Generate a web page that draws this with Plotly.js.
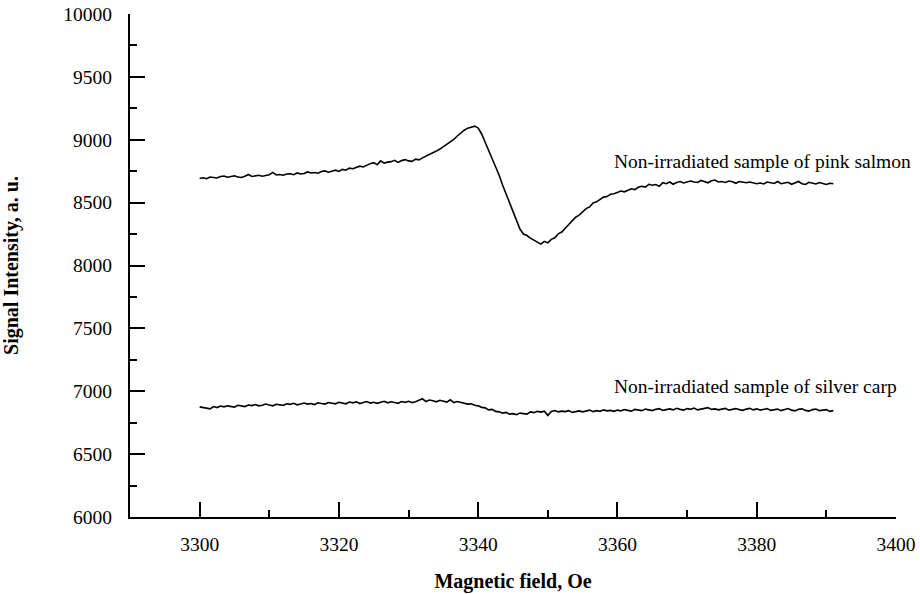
<!DOCTYPE html>
<html>
<head>
<meta charset="utf-8">
<script src="https://cdn.plot.ly/plotly-3.0.1.min.js"></script>
<style>html,body{margin:0;padding:0;background:#fff;}#chart{width:920px;height:594px;}</style>
</head>
<body>
<div id="chart"></div>
<script>
// Field grid: start 3300 Oe, step 0.5 Oe
var fieldStart = 3300;
var fieldStep = 0.5;

// Non-irradiated sample of pink salmon (signal, a.u.), one value per 0.5 Oe from 3300
var pinkSalmon = [
8692,8698,8690,8704,8700,8696,8708,8712,8702,8706,8714,8704,8700,8710,8724,8708,8714,8718,8710,8716,
8722,8740,8720,8724,8718,8728,8730,8722,8736,8728,8732,8744,8736,8740,8734,8748,8752,8742,8750,8758,
8748,8764,8758,8774,8770,8780,8790,8784,8800,8810,8818,8802,8832,8814,8822,8826,8836,8820,8834,8842,
8832,8828,8846,8840,8856,8868,8880,8896,8910,8926,8944,8962,8980,9002,9030,9054,9076,9092,9102,9108,
9092,9046,8980,8916,8860,8788,8720,8640,8570,8490,8422,8346,8290,8250,8238,8218,8200,8182,8170,8192,
8180,8208,8220,8252,8266,8296,8326,8348,8384,8400,8428,8452,8466,8498,8506,8522,8544,8548,8566,8570,
8580,8592,8586,8600,8610,8604,8622,8630,8624,8646,8638,8644,8630,8658,8650,8664,8646,8660,8668,8656,
8662,8672,8664,8660,8676,8668,8658,8674,8680,8664,8668,8660,8672,8666,8654,8668,8662,8658,8664,8654,
8650,8656,8648,8664,8660,8652,8668,8650,8656,8662,8646,8658,8668,8650,8644,8662,8656,8648,8660,8652,
8644,8654,8650
];

// Non-irradiated sample of silver carp (signal, a.u.), one value per 0.5 Oe from 3300
var silverCarp = [
6876,6872,6870,6860,6878,6870,6882,6876,6884,6880,6874,6888,6884,6878,6890,6886,6894,6884,6888,6898,
6890,6884,6896,6892,6888,6900,6896,6904,6892,6898,6906,6898,6902,6894,6908,6902,6898,6910,6904,6900,
6912,6906,6900,6914,6908,6916,6902,6910,6918,6906,6912,6904,6914,6920,6908,6916,6910,6904,6918,6912,
6920,6910,6916,6926,6940,6918,6930,6924,6916,6928,6922,6914,6932,6910,6918,6912,6904,6898,6900,6888,
6884,6872,6868,6852,6856,6840,6836,6826,6832,6818,6822,6814,6826,6820,6818,6836,6830,6840,6834,6842,
6808,6840,6846,6836,6842,6838,6846,6832,6840,6844,6836,6842,6850,6838,6846,6840,6852,6844,6848,6840,
6850,6844,6854,6848,6842,6856,6850,6846,6858,6852,6846,6856,6862,6848,6854,6860,6852,6864,6856,6850,
6862,6856,6866,6852,6858,6864,6870,6856,6860,6852,6858,6864,6850,6856,6862,6854,6848,6858,6864,6852,
6860,6850,6856,6862,6848,6852,6858,6846,6854,6862,6850,6844,6856,6860,6848,6842,6854,6858,6846,6850,
6854,6840,6846
];

var labels = ["Non-irradiated sample of pink salmon", "Non-irradiated sample of silver carp"];
var labelX = [3359.2, 3359.2];
var labelY = [8830, 7035];

function fieldFor(arr) {
  var out = [];
  for (var i = 0; i < arr.length; i++) out.push(fieldStart + fieldStep * i);
  return out;
}

var font = "Liberation Serif";
var traces = [
  {x: fieldFor(pinkSalmon), y: pinkSalmon, type: "scatter", mode: "lines",
   line: {color: "#000", width: 1.6}, hoverinfo: "x+y"},
  {x: fieldFor(silverCarp), y: silverCarp, type: "scatter", mode: "lines",
   line: {color: "#000", width: 1.6}, hoverinfo: "x+y"}
];

var annotations = labels.map(function (t, i) {
  return {x: labelX[i], y: labelY[i], xref: "x", yref: "y", text: t, showarrow: false,
          xanchor: "left", yanchor: "middle", font: {family: font, size: 19.5, color: "#000"}};
});

var layout = {
  width: 920, height: 594,
  margin: {l: 130, r: 24, t: 14, b: 77},
  paper_bgcolor: "#fff", plot_bgcolor: "#fff",
  showlegend: false,
  font: {family: font, color: "#000"},
  xaxis: {
    range: [3290, 3400], tickvals: [3300, 3320, 3340, 3360, 3380, 3400],
    ticktext: ["3300", "3320", "3340", "3360", "3380", "3400"],
    ticks: "inside", ticklen: 15, tickwidth: 2, tickcolor: "#000",
    minor: {tickvals: [3310, 3330, 3350, 3370, 3390], ticks: "inside", ticklen: 7, tickwidth: 2, tickcolor: "#000"},
    showline: true, linewidth: 2, linecolor: "#000", showgrid: false, zeroline: false,
    tickfont: {family: font, size: 19.5, color: "#000"}, ticklabelstandoff: 9,
    title: {text: "<b>Magnetic field, Oe</b>", font: {family: font, size: 20, color: "#000"}, standoff: 20}
  },
  yaxis: {
    range: [6000, 10000], dtick: 500, tick0: 6000, tickformat: "d",
    ticks: "inside", ticklen: 15, tickwidth: 2, tickcolor: "#000",
    minor: {dtick: 250, ticks: "inside", ticklen: 7, tickwidth: 2, tickcolor: "#000"},
    showline: true, linewidth: 2, linecolor: "#000", showgrid: false, zeroline: false,
    tickfont: {family: font, size: 19.5, color: "#000"}, ticklabelstandoff: 12,
    title: {text: "<b>Signal Intensity, a. u.</b>", font: {family: font, size: 20, color: "#000"}, standoff: 40}
  },
  annotations: annotations
};

Plotly.newPlot("chart", traces, layout, {displayModeBar: false, staticPlot: true});
</script>
</body>
</html>
